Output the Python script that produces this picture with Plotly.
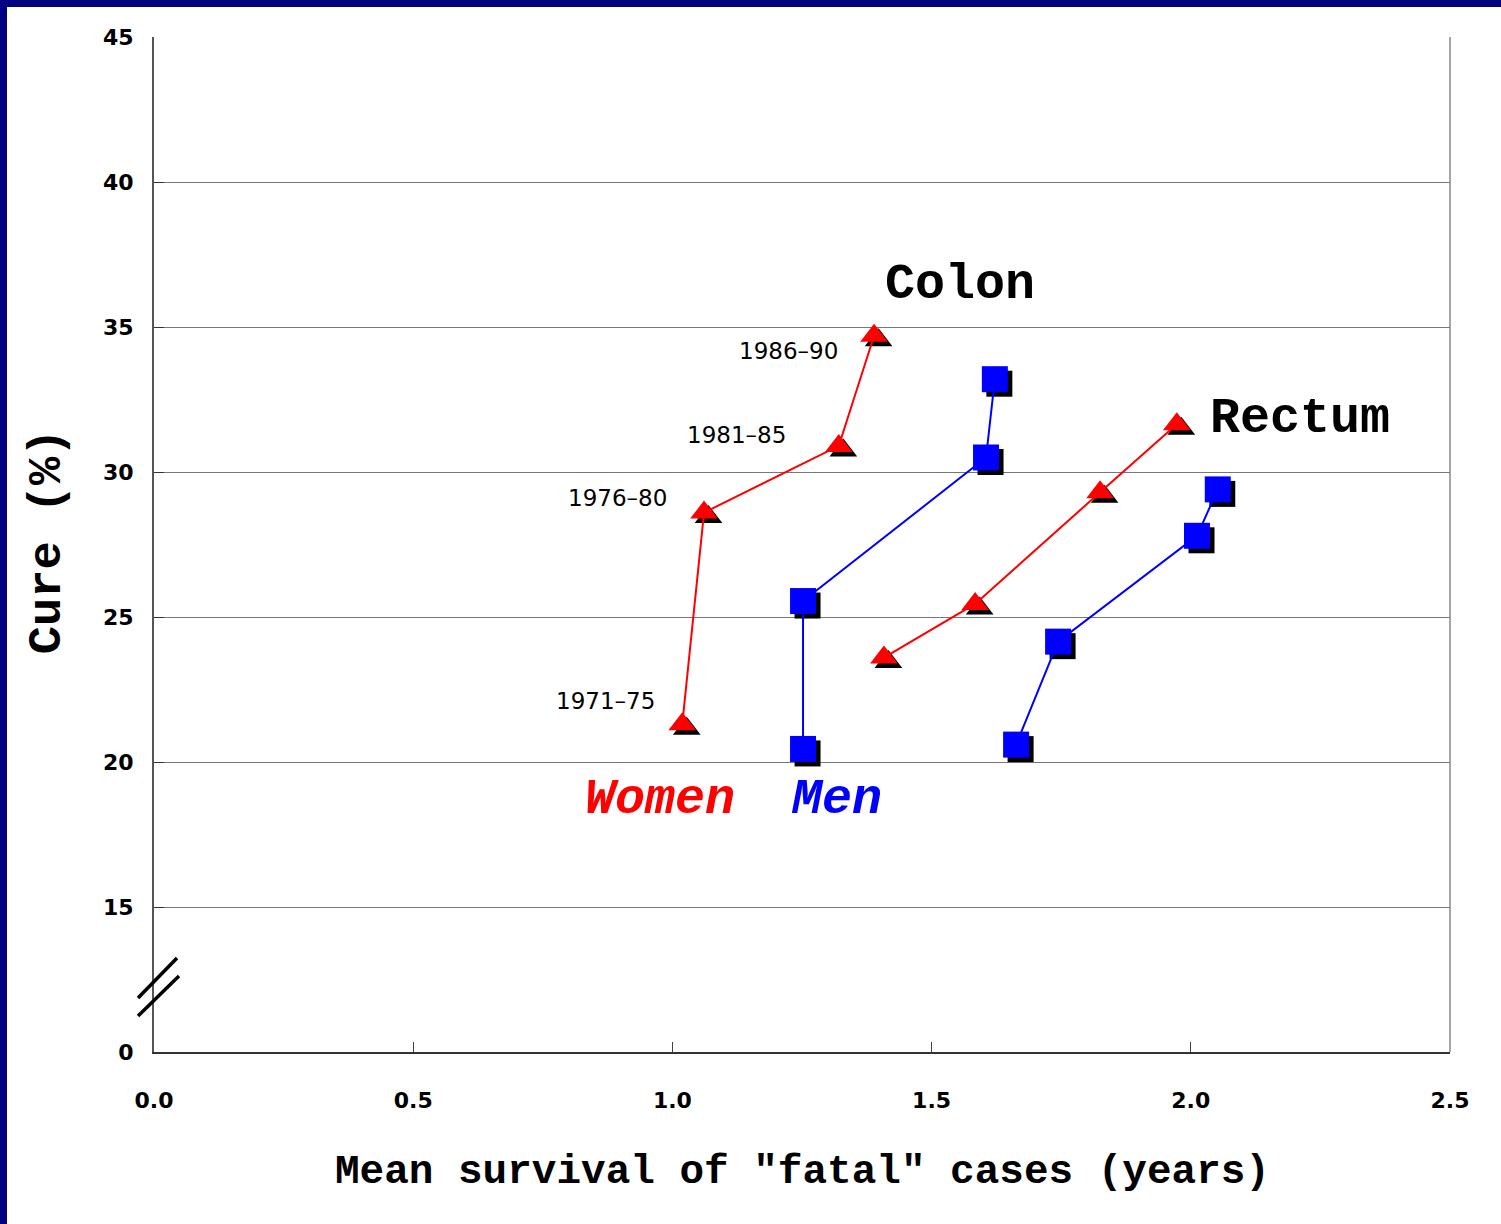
import plotly.graph_objects as go

# mean survival of "fatal" cases (years) and cure (%) per period
periods = ['1971–75', '1976–80', '1981–85', '1986–90']

colon_women_x = [1.019, 1.061, 1.321, 1.389]
colon_women_y = [21.3, 28.6, 30.9, 34.7]
colon_men_x = [1.252, 1.252, 1.605, 1.622]
colon_men_y = [20.45, 25.55, 30.5, 33.2]

rectum_women_x = [1.408, 1.584, 1.825, 1.973]
rectum_women_y = [23.6, 25.45, 29.3, 31.65]
rectum_men_x = [1.663, 1.744, 2.012, 2.052]
rectum_men_y = [20.6, 24.15, 27.8, 29.4]

y_tickvals = [10, 15, 20, 25, 30, 35, 40, 45]
y_ticktext = ['0', '15', '20', '25', '30', '35', '40', '45']
x_tickvals = [0.0, 0.5, 1.0, 1.5, 2.0, 2.5]
x_ticktext = ['0.0', '0.5', '1.0', '1.5', '2.0', '2.5']

W, H = 1501, 1224
ML, MR, MT, MB = 154, 51, 37, 172
XR = [0, 2.5]
YR = [10, 45]

# shadow offset, in pixels -> data units
sx = 4.5 * (XR[1] - XR[0]) / (W - ML - MR)
sy = -4.5 * (YR[1] - YR[0]) / (H - MT - MB)

mono = 'Courier New, Liberation Mono, monospace'
sans = 'Verdana, DejaVu Sans, sans-serif'

fig = go.Figure()

series = [
    (colon_women_x, colon_women_y, '#ff0000', 'triangle-up', 24),
    (colon_men_x, colon_men_y, '#0000ff', 'square', 26),
    (rectum_women_x, rectum_women_y, '#ff0000', 'triangle-up', 24),
    (rectum_men_x, rectum_men_y, '#0000ff', 'square', 26),
]

# black drop shadows first
for xs, ys, col, sym, size in series:
    fig.add_trace(
        go.Scatter(
            x=[v + sx for v in xs],
            y=[v + sy for v in ys],
            mode='markers',
            marker=dict(symbol=sym, size=size, color='black', line=dict(width=0)),
            showlegend=False,
            hoverinfo='skip'
        )
    )

for xs, ys, col, sym, size in series:
    fig.add_trace(
        go.Scatter(
            x=xs,
            y=ys,
            mode='lines+markers',
            line=dict(color=col, width=2),
            marker=dict(symbol=sym, size=size, color=col, line=dict(width=0)),
            showlegend=False
        )
    )

# period labels next to the women / colon points
shifts = [(-77, 23), (-87, 15), (-102, 11), (-86, -15)]
for p, x, y, (dx, dy) in zip(periods, colon_women_x, colon_women_y, shifts):
    fig.add_annotation(
        x=x, y=y, text=p, showarrow=False,
        xshift=dx, yshift=dy,
        font=dict(family=sans, size=23, color='black')
    )

fig.add_annotation(x=1.555, y=36.45, text='Colon', showarrow=False,
                   font=dict(family=mono, size=50, color='black', weight='bold'))
fig.add_annotation(x=2.211, y=31.86, text='Rectum', showarrow=False,
                   font=dict(family=mono, size=50, color='black', weight='bold'))
fig.add_annotation(x=0.976, y=18.69, text='Women', showarrow=False,
                   font=dict(family=mono, size=50, color='#ff0000', weight='bold', style='italic'))
fig.add_annotation(x=1.316, y=18.69, text='Men', showarrow=False,
                   font=dict(family=mono, size=50, color='#0000ff', weight='bold', style='italic'))

# axis titles
fig.add_annotation(xref='paper', yref='paper', x=0.5, y=-0.118,
                   xanchor='center', yanchor='middle',
                   text='Mean survival of "fatal" cases (years)', showarrow=False,
                   font=dict(family=mono, size=41, color='black', weight='bold'))
fig.add_annotation(xref='paper', yref='paper', x=-0.082, y=0.503, textangle=-90,
                   xanchor='center', yanchor='middle',
                   text='Cure (%)', showarrow=False,
                   font=dict(family=mono, size=47, color='black', weight='bold'))

pw = W - ML - MR
ph = H - MT - MB
shapes = [
    # axis break marks
    dict(type='line', xref='paper', yref='paper',
         x0=(138 - ML) / pw, y0=(H - MB - 998) / ph, x1=(177 - ML) / pw, y1=(H - MB - 958) / ph,
         line=dict(color='black', width=3.5)),
    dict(type='line', xref='paper', yref='paper',
         x0=(138 - ML) / pw, y0=(H - MB - 1016) / ph, x1=(179 - ML) / pw, y1=(H - MB - 976) / ph,
         line=dict(color='black', width=3.5)),
    # navy frame on top and left
    dict(type='rect', xref='paper', yref='paper', layer='above',
         x0=-ML / pw, x1=(W - ML) / pw, y0=(H - MB - 7) / ph, y1=(H - MB) / ph,
         fillcolor='#000080', line=dict(width=0)),
    dict(type='rect', xref='paper', yref='paper', layer='above',
         x0=-ML / pw, x1=(7 - ML) / pw, y0=-MB / ph, y1=(H - MB) / ph,
         fillcolor='#000080', line=dict(width=0)),
    # right border of the plot area
    dict(type='line', xref='paper', yref='paper', x0=1, x1=1, y0=0, y1=1,
         line=dict(color='#888888', width=1.5)),
]

fig.update_layout(
    width=W,
    height=H,
    margin=dict(l=ML, r=MR, t=MT, b=MB, pad=0),
    paper_bgcolor='white',
    plot_bgcolor='white',
    showlegend=False,
    shapes=shapes,
    xaxis=dict(
        range=XR,
        tickvals=x_tickvals,
        ticktext=x_ticktext,
        ticks='inside',
        ticklen=10,
        tickcolor='#444444',
        showgrid=False,
        zeroline=False,
        showline=True,
        linecolor='#333333',
        linewidth=2,
        ticklabelstandoff=28,
        tickfont=dict(family=sans, size=22, color='black', weight='bold')
    ),
    yaxis=dict(
        range=YR,
        tickvals=y_tickvals,
        ticktext=y_ticktext,
        ticks='inside',
        ticklen=10,
        tickcolor='#333333',
        showgrid=True,
        gridcolor='#777777',
        gridwidth=1,
        zeroline=False,
        showline=True,
        linecolor='#555555',
        linewidth=2,
        ticklabelstandoff=14,
        tickfont=dict(family=sans, size=22, color='black', weight='bold')
    ),
)

# page has a default body margin; drop it so the figure sits at the window corner
fig.write_html("out.html", config={'displayModeBar': False},
               post_script="document.body.style.margin='0';")
